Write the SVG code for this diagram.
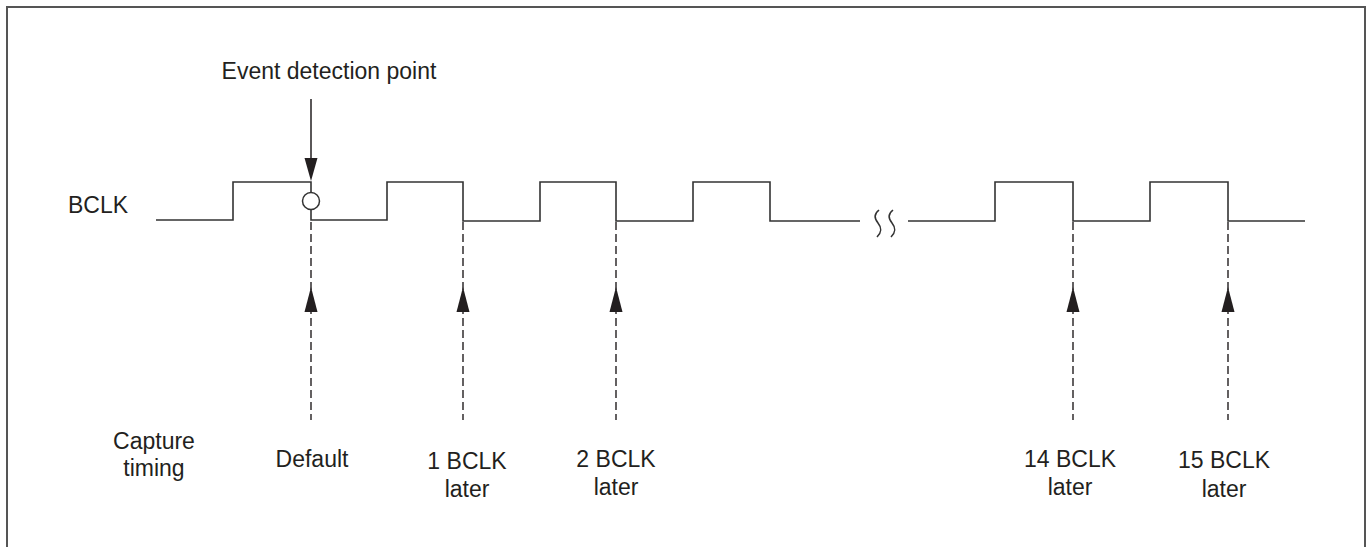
<svg xmlns="http://www.w3.org/2000/svg" width="1372" height="547" viewBox="0 0 1372 547">
<style>
.t{font-family:"Liberation Sans",Arial,sans-serif;font-size:23px;fill:#231f20;text-anchor:middle}
.sig{fill:none;stroke:#333;stroke-width:1.6}
.dash{fill:none;stroke:#231f20;stroke-width:1.4;stroke-dasharray:8,4}
.ah{fill:#231f20}
</style>
<rect x="7" y="7" width="1358" height="570" fill="#fff" stroke="#555" stroke-width="2"/>
<g id="bclk-label"><text class="t" x="98" y="213">BCLK</text></g>
<g id="bclk-signal">
<path class="sig" d="M156 220 H233 V182 H311 V220 H387 V182 H463 V221 H540 V182 H616 V221 H693 V182 H770 V221 H860"/>
<path class="sig" d="M908 221 H995 V182 H1073 V221 H1150 V182 H1228 V221 H1305"/>
<path class="sig" stroke-width="2" d="M879 210 c-5 4 -5 8 -1 13 c4 5 4 9 -1 14"/>
<path class="sig" stroke-width="2" d="M893 210 c-5 4 -5 8 -1 13 c4 5 4 9 -1 14"/>
</g>
<g id="event-point">
<text class="t" x="329" y="79">Event detection point</text>
<circle cx="311" cy="201" r="8.5" fill="#fff" stroke="#333" stroke-width="1.5"/>
</g>
<g id="connectors">
<line x1="311" y1="99" x2="311" y2="160" stroke="#231f20" stroke-width="1.5"/>
<polygon class="ah" points="304.5,158 317.5,158 311,181"/>
<g id="capture-lines">
<line class="dash" x1="311" y1="222" x2="311" y2="420"/>
<line class="dash" x1="463" y1="222" x2="463" y2="420"/>
<line class="dash" x1="616" y1="222" x2="616" y2="420"/>
<line class="dash" x1="1073" y1="222" x2="1073" y2="420"/>
<line class="dash" x1="1228" y1="222" x2="1228" y2="420"/>
<polygon class="ah" points="304.5,312 317.5,312 311,287"/>
<polygon class="ah" points="456.5,312 469.5,312 463,287"/>
<polygon class="ah" points="609.5,312 622.5,312 616,287"/>
<polygon class="ah" points="1066.5,312 1079.5,312 1073,287"/>
<polygon class="ah" points="1221.5,312 1234.5,312 1228,287"/>
</g>
</g>
<g id="capture-label"><text class="t" x="154" y="449">Capture</text><text class="t" x="154" y="476">timing</text></g>
<g id="default"><text class="t" x="312" y="467">Default</text></g>
<g id="bclk1"><text class="t" x="467" y="469">1 BCLK</text><text class="t" x="467" y="497">later</text></g>
<g id="bclk2"><text class="t" x="616" y="467">2 BCLK</text><text class="t" x="616" y="495">later</text></g>
<g id="bclk14"><text class="t" x="1070" y="467">14 BCLK</text><text class="t" x="1070" y="495">later</text></g>
<g id="bclk15"><text class="t" x="1224" y="468">15 BCLK</text><text class="t" x="1224" y="497">later</text></g>
</svg>
